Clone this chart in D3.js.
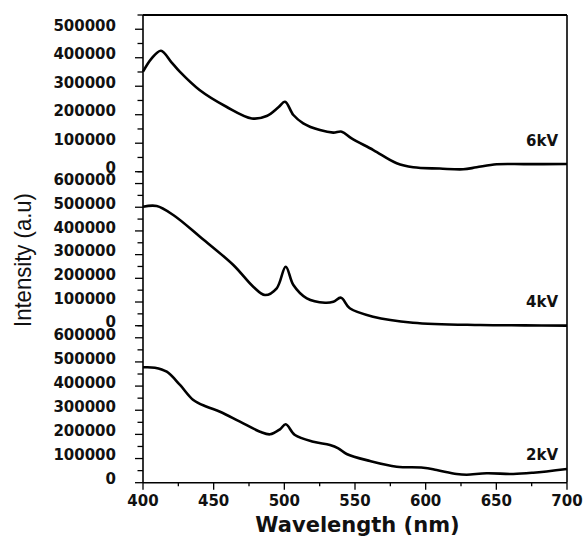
<!DOCTYPE html>
<html>
<head>
<meta charset="utf-8">
<script src="https://cdn.jsdelivr.net/npm/d3@7"></script>
<style>
  html, body { margin: 0; padding: 0; background: #fff; }
  svg { display: block; }
</style>
</head>
<body>
<svg id="chart" width="586" height="537"></svg>
<script>
// ---- data (wavelength nm, intensity a.u.) ----
const wl6 = [400, 406, 412.7, 420, 426, 440, 459, 477, 487.5, 495.8, 500.5, 506.4, 513.4, 525.2, 534.6, 540.6, 547.6, 563, 579.5, 591.2, 610, 626.6, 636, 650.3, 670, 700];
const kv6 = [351000, 397000, 424700, 385000, 351000, 286800, 228000, 187000, 195500, 226000, 245700, 199000, 170000, 146000, 137000, 140400, 117000, 76000, 29500, 15400, 11000, 8400, 15400, 26000, 26500, 27000];

const wl4 = [400, 409.7, 421.4, 440.3, 463.9, 478, 486.3, 494.6, 501, 506.4, 515.9, 528.8, 534.7, 540.1, 546.3, 562.8, 591, 638.5, 670, 700];
const kv4 = [502300, 505300, 467300, 375700, 256200, 164600, 129600, 157900, 249000, 171800, 115600, 97100, 101300, 118200, 73400, 38000, 12700, 3000, 1500, 500];

const wl2 = [400, 408.4, 416.8, 426.2, 435.6, 445.1, 454.5, 468.6, 482.8, 489.9, 496.9, 501, 507.5, 520.5, 532.3, 538.2, 544.1, 560.6, 579.5, 598.3, 607.8, 621.9, 629, 643.1, 662, 676.1, 700];
const kv2 = [477900, 476200, 459600, 404600, 342500, 314700, 294000, 252600, 211200, 200400, 221100, 241800, 197500, 169800, 156100, 142400, 118800, 89900, 66300, 62100, 52600, 36000, 33100, 38900, 36000, 41400, 57000];

const seriesLabels = ["6kV", "4kV", "2kV"];
const xTicks = [400, 450, 500, 550, 600, 650, 700];
const yMaxTop = 550000;
const yMaxOther = 650000;

// ---- layout ----
const svg = d3.select("#chart");
const X0 = 143, X1 = 567;
const panels = [
  { wl: wl6, v: kv6, label: seriesLabels[0], max: yMaxTop,   y0: 171.7, y1: 15,    labelY: 141 },
  { wl: wl4, v: kv4, label: seriesLabels[1], max: yMaxOther, y0: 325.7, y1: 171.7, labelY: 301.5 },
  { wl: wl2, v: kv2, label: seriesLabels[2], max: yMaxOther, y0: 482.7, y1: 325.7, labelY: 455 }
];

const x = d3.scaleLinear().domain([400, 700]).range([X0, X1]);
const tickFont = "'DejaVu Sans', sans-serif";

// frame: top and right
svg.append("line").attr("x1", X0).attr("x2", X1).attr("y1", 15).attr("y2", 15)
  .attr("stroke", "#000").attr("stroke-width", 2);
svg.append("line").attr("x1", X1).attr("x2", X1).attr("y1", 15).attr("y2", 482.7)
  .attr("stroke", "#000").attr("stroke-width", 1.6);
// left axis line
svg.append("line").attr("x1", X0).attr("x2", X0).attr("y1", 15).attr("y2", 482.7)
  .attr("stroke", "#000").attr("stroke-width", 1.6);

panels.forEach(p => {
  const y = d3.scaleLinear().domain([0, p.max]).range([p.y0, p.y1]);
  const ticks = d3.range(0, p.max + 1, 50000);
  const g = svg.append("g");
  ticks.forEach(t => {
    const major = t % 100000 === 0;
    g.append("line")
      .attr("x1", X0 - (major ? 8 : 5.5)).attr("x2", X0)
      .attr("y1", y(t)).attr("y2", y(t))
      .attr("stroke", "#000").attr("stroke-width", 1.3);
    if (major) {
      g.append("text")
        .attr("x", 116).attr("y", y(t) - 3.5).attr("dy", "0.35em")
        .attr("text-anchor", "end")
        .attr("font-family", tickFont).attr("font-weight", "bold")
        .attr("font-size", "15px").attr("fill", "#111")
        .text(t);
    }
  });
  const line = d3.line()
    .x((d, i) => x(p.wl[i]))
    .y(d => y(d))
    .curve(d3.curveCatmullRom.alpha(0.5));
  svg.append("path").datum(p.v)
    .attr("d", line)
    .attr("fill", "none").attr("stroke", "#000")
    .attr("stroke-width", 2.6).attr("stroke-linejoin", "round");
  svg.append("text")
    .attr("x", 558).attr("y", p.labelY).attr("dy", "0.35em")
    .attr("text-anchor", "end")
    .attr("font-family", tickFont).attr("font-weight", "bold")
    .attr("font-size", "15px").attr("fill", "#111")
    .text(p.label);
});

// x axis
const xAxisY = 482.7;
svg.append("line").attr("x1", X0).attr("x2", X1).attr("y1", xAxisY).attr("y2", xAxisY)
  .attr("stroke", "#000").attr("stroke-width", 1.6);
d3.range(400, 701, 25).forEach(t => {
  const major = t % 50 === 0;
  svg.append("line")
    .attr("x1", x(t)).attr("x2", x(t))
    .attr("y1", xAxisY).attr("y2", xAxisY + (major ? 7 : 3.5))
    .attr("stroke", "#000").attr("stroke-width", 1.3);
});
xTicks.forEach(t => {
  svg.append("text")
    .attr("x", x(t)).attr("y", 505.5)
    .attr("text-anchor", "middle")
    .attr("font-family", tickFont).attr("font-weight", "bold")
    .attr("font-size", "15px").attr("fill", "#111")
    .text(t);
});

// axis titles
svg.append("text")
  .attr("x", 357.5).attr("y", 532)
  .attr("text-anchor", "middle")
  .attr("font-family", tickFont).attr("font-weight", "bold")
  .attr("font-size", "21px").attr("fill", "#111")
  .text("Wavelength (nm)");

svg.append("text")
  .attr("transform", "translate(31,260) rotate(-90)")
  .attr("text-anchor", "middle")
  .attr("font-family", "'Liberation Sans', Arial, sans-serif")
  .attr("font-size", "24px").attr("fill", "#111")
  .attr("textLength", 134).attr("lengthAdjust", "spacingAndGlyphs")
  .text("Intensity (a.u)");
</script>
</body>
</html>
